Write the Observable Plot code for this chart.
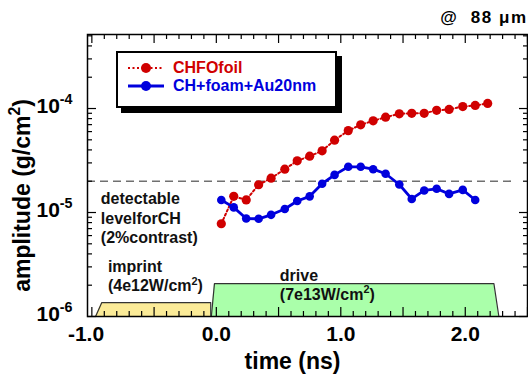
<!DOCTYPE html>
<html>
<head>
<meta charset="utf-8">
<script src="https://cdn.jsdelivr.net/npm/d3@7"></script>
<script src="https://cdn.jsdelivr.net/npm/@observablehq/plot@0.6"></script>
<style>
  html, body { margin: 0; padding: 0; background: white; }
  #wrap { position: relative; width: 528px; height: 376px; overflow: hidden; font-family: 'Liberation Sans', Arial, sans-serif; }
  #legend { position: absolute; left: 116px; top: 51px; width: 221px; height: 57px; box-sizing: border-box;
            border: 2px solid black; background: white; box-shadow: 5px 5px 0 #000; }
  .row { position: absolute; left: 9px; height: 18px; display: flex; align-items: center; font-weight: bold; font-size: 16px; white-space: nowrap; }
  .row svg { margin-right: 8px; }
</style>
</head>
<body>
<div id="wrap"></div>
<script>
// ---- data ----
const redTime  = [0.04,0.14,0.24,0.34,0.44,0.55,0.65,0.75,0.85,0.95,1.06,1.16,1.26,1.36,1.47,1.57,1.67,1.77,1.87,1.98,2.08,2.18];
const redAmp   = [7.8e-6,1.43e-5,1.32e-5,1.85e-5,2.14e-5,2.61e-5,3.14e-5,3.48e-5,3.92e-5,4.96e-5,6.13e-5,6.97e-5,7.62e-5,8.25e-5,8.89e-5,9.0e-5,9.0e-5,9.6e-5,9.8e-5,1.045e-4,1.07e-4,1.12e-4];
const blueTime = [0.04,0.14,0.24,0.34,0.44,0.55,0.65,0.75,0.85,0.95,1.06,1.16,1.26,1.36,1.47,1.57,1.67,1.77,1.87,1.98,2.08];
const blueAmp  = [1.32e-5,1.12e-5,8.75e-6,8.7e-6,9.5e-6,1.08e-5,1.29e-5,1.43e-5,1.89e-5,2.30e-5,2.75e-5,2.75e-5,2.61e-5,2.36e-5,1.86e-5,1.35e-5,1.63e-5,1.69e-5,1.51e-5,1.65e-5,1.32e-5];
const seriesNames = ["CHFOfoil", "CH+foam+Au20nm"];
const detectLevel = [2e-5];
const imprintTime = [-0.97, -0.92, -0.045, -0.045];
const imprintAmp  = [1e-6, 1.36e-6, 1.36e-6, 1e-6];
const driveTime   = [-0.04, -0.015, 2.23, 2.27];
const driveAmp    = [1e-6, 2.07e-6, 2.07e-6, 1e-6];
const annotText = ["detectable\nlevelforCH\n(2%contrast)", "imprint\n(4e12W/cm^{2})", "drive\n(7e13W/cm^{2})"];
const annotTime = [-0.928, -0.871, 0.51];
const annotAmp  = [9e-6, 2.48e-6, 2.05e-6];
const xTickLabels = [-1, 0, 1, 2];
const xMajor = [-1, -0.5, 0, 0.5, 1, 1.5, 2, 2.5];
const xMinor = d3.range(-10, 26).map(i => i / 10).filter(v => !xMajor.includes(v));
const yMajor = [1e-6, 1e-5, 1e-4];
const yMinor = [1e-6, 1e-5, 1e-4].flatMap(d => [2,3,4,5,6,7,8,9].map(k => k * d)).filter(v => v < 5.1e-4);
const title = "@\u00a0\u00a088\u00a0μm";
const xLabel = "time (ns)";
const yLabel = "amplitude (g/cm^{2})";
const RED = "#d00000", BLUE = "#0000dd";

const red  = redTime.map((t, i) => ({t, a: redAmp[i]}));
const blue = blueTime.map((t, i) => ({t, a: blueAmp[i]}));
const imprint = imprintTime.map((t, i) => ({t, a: imprintAmp[i]}));
const drive   = driveTime.map((t, i) => ({t, a: driveAmp[i]}));
const annots  = annotText.map((s, i) => ({s, t: annotTime[i], a: annotAmp[i]}));

const W = 528, H = 376, mL = 87, mR = 1, mT = 34, mB = 60;
const PW = W - mL - mR, PH = H - mT - mB;
const yMin = 1e-6;

const chart = Plot.plot({
  width: W, height: H,
  marginLeft: mL, marginRight: mR, marginTop: mT, marginBottom: mB,
  x: {domain: [-1.035, 2.5]},
  y: {type: "log", domain: [1e-6, 5.15e-4]},
  style: {fontFamily: "'Liberation Sans', Arial, sans-serif", fontWeight: "bold", color: "black", background: "white", overflow: "visible"},
  marks: [
    // laser pulses
    Plot.areaY(imprint, {x: "t", y1: () => yMin, y2: "a", fill: "#fbeb98"}),
    Plot.line(imprint, {x: "t", y: "a", stroke: "#333", strokeWidth: 1.2}),
    Plot.areaY(drive, {x: "t", y1: () => yMin, y2: "a", fill: "#aaffaa"}),
    Plot.line(drive, {x: "t", y: "a", stroke: "#333", strokeWidth: 1.2}),
    // detectable level
    Plot.ruleY(detectLevel, {y: d => d, stroke: "#707070", strokeWidth: 1.6, strokeDasharray: "8,5", insetRight: 12}),
    // ticks (inward)
    Plot.tickX(xMajor, {x: d => d, insetTop: PH - 9, stroke: "black", strokeWidth: 1.2}),
    Plot.tickX(xMinor, {x: d => d, insetTop: PH - 5, stroke: "black", strokeWidth: 1.2}),
    Plot.tickX(xMajor, {x: d => d, insetBottom: PH - 9, stroke: "black", strokeWidth: 1.2}),
    Plot.tickX(xMinor, {x: d => d, insetBottom: PH - 5, stroke: "black", strokeWidth: 1.2}),
    Plot.tickY(yMajor, {y: d => d, insetRight: PW - 9, stroke: "black", strokeWidth: 1.2}),
    Plot.tickY(yMinor, {y: d => d, insetRight: PW - 5, stroke: "black", strokeWidth: 1.2}),
    Plot.tickY(yMajor, {y: d => d, insetLeft: PW - 8, stroke: "black", strokeWidth: 1.2}),
    Plot.tickY(yMinor, {y: d => d, insetLeft: PW - 4, stroke: "black", strokeWidth: 1.2}),
    // data
    Plot.line(red, {x: "t", y: "a", stroke: RED, strokeWidth: 2, strokeDasharray: "2,2.5"}),
    Plot.dot(red, {x: "t", y: "a", r: 4.6, fill: RED}),
    Plot.line(blue, {x: "t", y: "a", stroke: BLUE, strokeWidth: 2.8}),
    Plot.dot(blue, {x: "t", y: "a", r: 4.3, fill: BLUE}),
    // annotations
    Plot.text(annots, {x: "t", y: "a", text: "s", textAnchor: "start", lineAnchor: "middle", lineHeight: 1.22, fontSize: 16, fill: "#111"}),
    // axes
    Plot.axisX({ticks: xTickLabels, tickSize: 0, tickPadding: 10, fontSize: 21, label: null,
                tickFormat: d => d === -1 ? d.toFixed(1) + "\u00a0\u00a0" : d.toFixed(1)}),
    Plot.axisY({ticks: yMajor, tickSize: 0, tickPadding: 15, fontSize: 21, label: null, dy: -2,
                tickFormat: d => "10^{" + Math.round(Math.log10(d)) + "}"}),
    Plot.text([xLabel], {frameAnchor: "bottom", dx: -15, dy: 45, lineAnchor: "middle", fontSize: 23}),
    Plot.text([yLabel], {frameAnchor: "left", rotate: -90, textAnchor: "middle", dx: -65, dy: 20, lineAnchor: "middle", fontSize: 23}),
    Plot.text([title], {frameAnchor: "top-right", textAnchor: "end", dx: 0, dy: -17, lineAnchor: "middle", fontSize: 17}),
    Plot.frame({stroke: "black", strokeWidth: 1.5})
  ]
});

// superscripts: turn "^{..}" into raised tspans
function supify(root) {
  const ns = "http://www.w3.org/2000/svg";
  const found = [];
  const walker = document.createTreeWalker(root, NodeFilter.SHOW_TEXT);
  while (walker.nextNode()) if (walker.currentNode.nodeValue.includes("^{")) found.push(walker.currentNode);
  for (const n of found) {
    const parts = n.nodeValue.split(/(\^\{[^}]*\})/);
    const frag = document.createDocumentFragment();
    let raised = false;
    for (const p of parts) {
      if (!p) continue;
      const ts = document.createElementNS(ns, "tspan");
      if (p.startsWith("^{")) {
        ts.textContent = p.slice(2, -1);
        ts.setAttribute("font-size", "0.68em");
        ts.setAttribute("dy", "-0.62em");
        raised = true;
      } else {
        ts.textContent = p;
        if (raised) { ts.setAttribute("dy", "0.42em"); raised = false; }
      }
      frag.appendChild(ts);
    }
    n.parentNode.replaceChild(frag, n);
  }
}
supify(chart);
// wider letter spacing for the title text
d3.select(chart).selectAll("text").filter(function() { return this.textContent === title; })
  .attr("letter-spacing", "1.5px");

const wrap = document.getElementById("wrap");
wrap.appendChild(chart);

// legend
const legend = document.createElement("div");
legend.id = "legend";
const styles = [
  {color: RED, dash: "2,2.5", width: 2, r: 5},
  {color: BLUE, dash: null, width: 3, r: 5}
];
seriesNames.forEach((name, i) => {
  const row = document.createElement("div");
  row.className = "row";
  row.style.top = (i === 0 ? 6 : 24) + "px";
  row.style.color = styles[i].color;
  const s = d3.create("svg").attr("width", 38).attr("height", 14);
  s.append("line").attr("x1", 1).attr("x2", 37).attr("y1", 7).attr("y2", 7)
    .attr("stroke", styles[i].color).attr("stroke-width", styles[i].width)
    .attr("stroke-dasharray", styles[i].dash);
  s.append("circle").attr("cx", 19).attr("cy", 7).attr("r", styles[i].r).attr("fill", styles[i].color);
  row.appendChild(s.node());
  const span = document.createElement("span");
  span.textContent = name;
  row.appendChild(span);
  legend.appendChild(row);
});
wrap.appendChild(legend);
</script>
</body>
</html>
